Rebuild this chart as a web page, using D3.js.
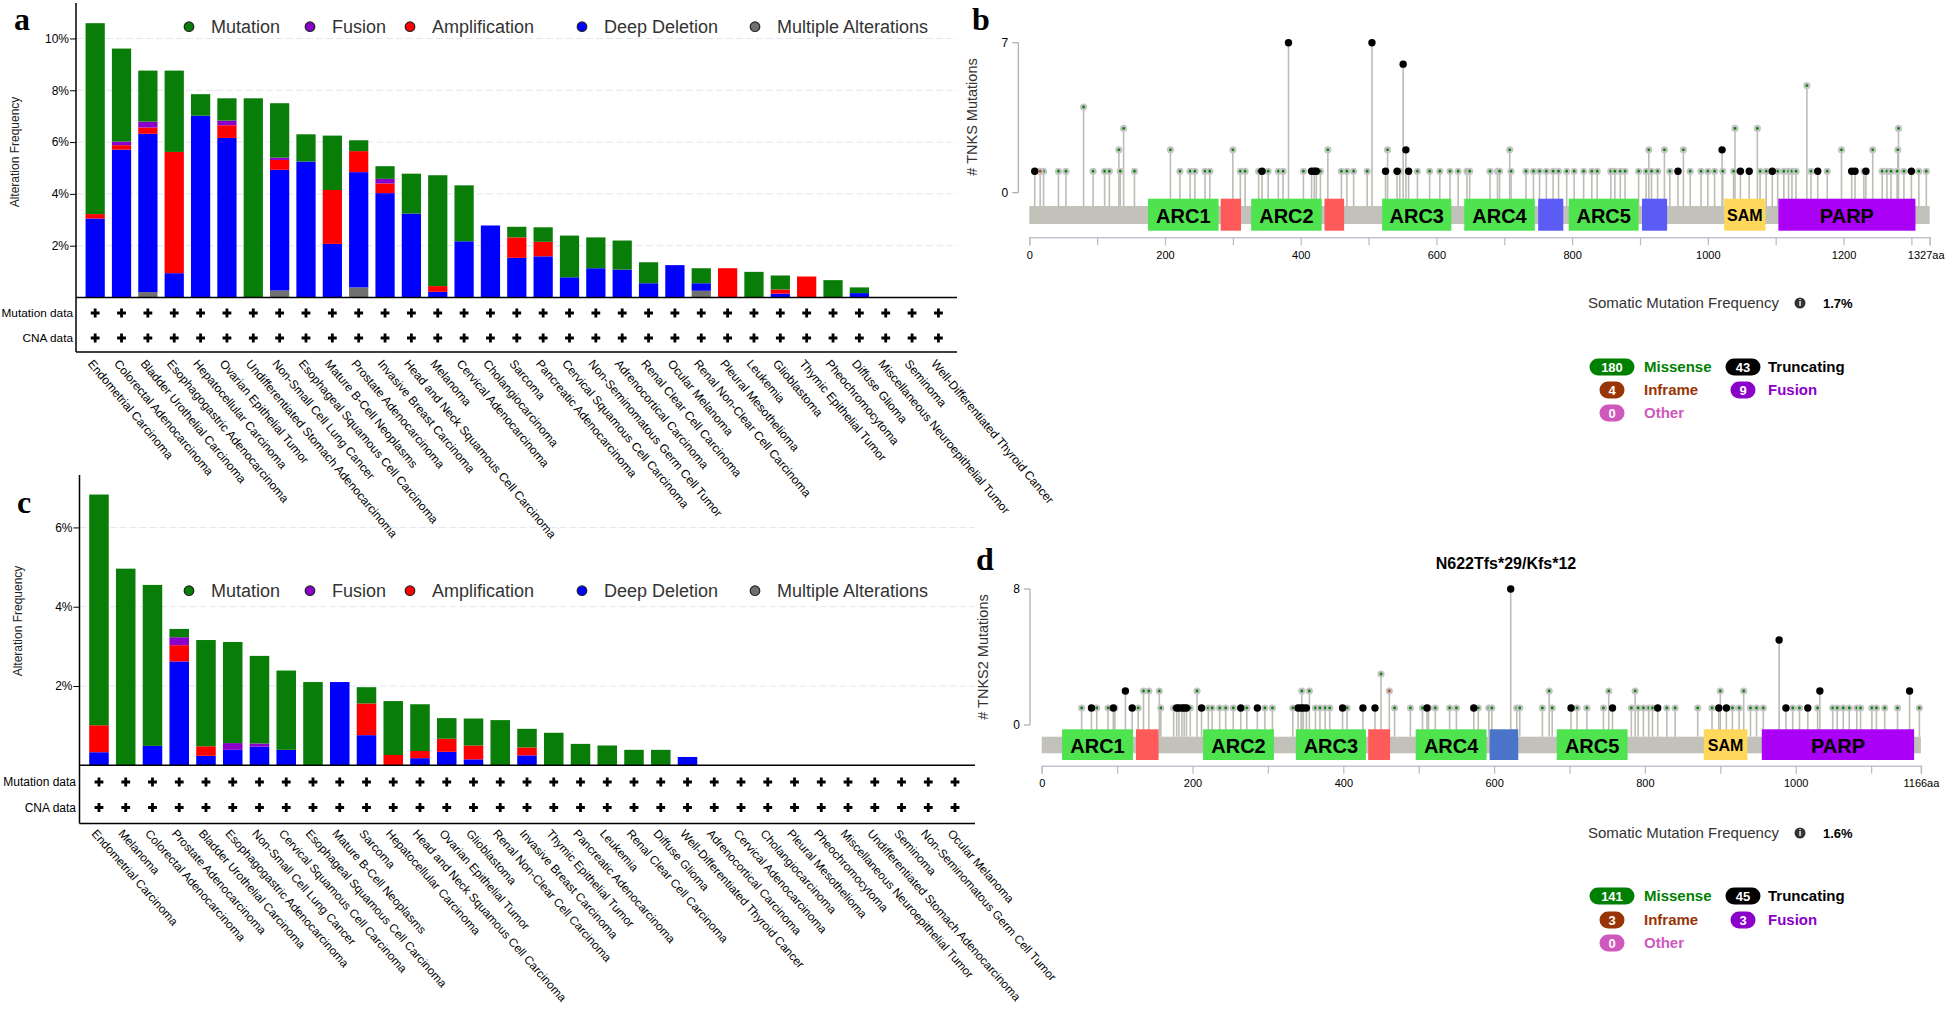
<!DOCTYPE html>
<html><head><meta charset="utf-8">
<script src="https://cdn.jsdelivr.net/npm/d3@7"></script>
<style>body{margin:0;background:#fff;} svg{display:block;font-family:"Liberation Sans",Arial,Helvetica,sans-serif;}</style>
</head><body><svg id="c" width="1946" height="1009"></svg>
<script>
// ---------------- DATA ----------------
const stackKeys = ["multiple","deldel","amp","fusion","mutation"];
const legendKeys = ["mutation","fusion","amp","deldel","multiple"];
const legendNames = ["Mutation","Fusion","Amplification","Deep Deletion","Multiple Alterations"];

// Panel a (TNKS)
const typesA = ["Endometrial Carcinoma","Colorectal Adenocarcinoma","Bladder Urothelial Carcinoma","Esophagogastric Adenocarcinoma","Hepatocellular Carcinoma","Ovarian Epithelial Tumor","Undifferentiated Stomach Adenocarcinoma","Non-Small Cell Lung Cancer","Esophageal Squamous Cell Carcinoma","Mature B-Cell Neoplasms","Prostate Adenocarcinoma","Invasive Breast Carcinoma","Head and Neck Squamous Cell Carcinoma","Melanoma","Cervical Adenocarcinoma","Cholangiocarcinoma","Sarcoma","Pancreatic Adenocarcinoma","Cervical Squamous Cell Carcinoma","Non-Seminomatous Germ Cell Tumor","Adrenocortical Carcinoma","Renal Clear Cell Carcinoma","Ocular Melanoma","Renal Non-Clear Cell Carcinoma","Pleural Mesothelioma","Leukemia","Glioblastoma","Thymic Epithelial Tumor","Pheochromocytoma","Diffuse Glioma","Miscellaneous Neuroepithelial Tumor","Seminoma","Well-Differentiated Thyroid Cancer"];
const mutationA = [7.37,3.59,1.97,3.14,0.83,0.86,7.69,2.10,1.05,2.10,0.42,0.49,1.54,4.28,2.16,0,0.41,0.56,1.61,1.19,1.12,0.81,0,0.58,0,0.99,0.54,0,0.67,0.22,0,0,0];
const fusionA   = [0,0.14,0.23,0,0,0.18,0,0.09,0,0,0,0.18,0,0,0,0,0,0,0,0,0,0,0,0,0,0,0,0,0,0,0,0,0];
const ampA      = [0.17,0.17,0.24,4.68,0,0.49,0,0.38,0,2.08,0.81,0.37,0,0.22,0,0,0.79,0.56,0,0,0,0,0,0,1.13,0,0.16,0.81,0,0,0,0,0];
const deldelA   = [3.05,5.71,6.11,0.94,7.02,6.16,0,4.66,5.25,2.07,4.45,4.03,3.24,0.22,2.17,2.78,1.53,1.59,0.78,1.13,1.08,0.55,1.25,0.29,0,0,0.15,0,0,0.17,0,0,0];
const multipleA = [0,0,0.21,0,0,0,0,0.27,0,0,0.39,0,0,0,0,0,0,0,0,0,0,0,0,0.26,0,0,0,0,0,0,0,0,0];
const ticksA = [2,4,6,8,10];

// Panel c (TNKS2)
const typesC = ["Endometrial Carcinoma","Melanoma","Colorectal Adenocarcinoma","Prostate Adenocarcinoma","Bladder Urothelial Carcinoma","Esophagogastric Adenocarcinoma","Non-Small Cell Lung Cancer","Cervical Squamous Cell Carcinoma","Esophageal Squamous Cell Carcinoma","Mature B-Cell Neoplasms","Sarcoma","Hepatocellular Carcinoma","Head and Neck Squamous Cell Carcinoma","Ovarian Epithelial Tumor","Glioblastoma","Renal Non-Clear Cell Carcinoma","Invasive Breast Carcinoma","Thymic Epithelial Tumor","Pancreatic Adenocarcinoma","Leukemia","Renal Clear Cell Carcinoma","Diffuse Glioma","Well-Differentiated Thyroid Cancer","Adrenocortical Carcinoma","Cervical Adenocarcinoma","Cholangiocarcinoma","Pleural Mesothelioma","Pheochromocytoma","Miscellaneous Neuroepithelial Tumor","Undifferentiated Stomach Adenocarcinoma","Seminoma","Non-Seminomatous Germ Cell Tumor","Ocular Melanoma"];
const mutationC = [5.82,4.96,4.06,0.21,2.68,2.55,2.21,2.00,2.10,0,0.41,1.36,1.18,0.52,0.68,1.14,0.47,0.82,0.54,0.50,0.39,0.39,0,0,0,0,0,0,0,0,0,0,0];
const fusionC   = [0,0,0,0.20,0,0.17,0.08,0,0,0,0,0,0,0,0,0,0,0,0,0,0,0,0,0,0,0,0,0,0,0,0,0,0];
const ampC      = [0.68,0,0,0.41,0.24,0,0,0,0,0,0.80,0.26,0.18,0.33,0.35,0,0.20,0,0,0,0,0,0,0,0,0,0,0,0,0,0,0,0];
const deldelC   = [0.33,0,0.49,2.62,0.24,0.39,0.47,0.39,0,2.10,0.76,0,0.18,0.34,0.15,0,0.25,0,0,0,0,0,0.21,0,0,0,0,0,0,0,0,0,0];
const multipleC = [0,0,0,0,0,0,0,0,0,0,0,0,0,0,0,0,0,0,0,0,0,0,0,0,0,0,0,0,0,0,0,0,0];
const ticksC = [2,4,6];

// Panel b (TNKS lollipop) : [amino acid, count]
const tnksLength = 1327;
const tnksDomains = [["ARC1",175,279],["",282,312],["ARC2",327,431],["",435,464],["ARC3",520,622],["ARC4",641,745],["",750,787],["ARC5",795,898],["",903,940],["SAM",1024,1085],["PARP",1104,1306]];
const tnksMissense = [21,43,54,94,111,118,134,155,222,237,244,259,266,311,318,338,352,367,374,404,429,460,468,478,498,546,572,590,605,620,632,645,649,679,690,693,710,732,743,752,762,772,780,792,803,817,829,837,857,863,871,878,898,909,917,926,944,974,990,1000,1010,1022,1038,1077,1086,1103,1112,1119,1124,1130,1152,1176,1230,1257,1264,1270,1279,1289,1311,1322].map(p=>[p,1])
  .concat([132,208,300,440,528,708,913,936,964,1197,1243,1280].map(p=>[p,2]))
  .concat([139,1040,1073,1281].map(p=>[p,3]))
  .concat([[80,4],[1146,5]]);
const tnksTruncating = [8,343,416,420,423,525,542,559,956,1048,1061,1095,1162,1212,1217,1233,1300].map(p=>[p,1])
  .concat([[555,2],[1021,2],[551,6],[382,7],[505,7]]);
const tnksInframe = [[16,1]];
const tnksTypeCounts = [180,43,4,9,0];

// Panel d (TNKS2 lollipop)
const tnks2Length = 1166;
const tnks2Domains = [["ARC1",27,121],["",125,155],["ARC2",214,308],["ARC3",337,430],["",433,462],["ARC4",496,590],["",594,632],["ARC5",683,777],["SAM",878,936],["PARP",955,1157]];
const tnks2Missense = [53,73,88,97,128,158,175,197,221,226,236,244,254,272,296,306,333,363,369,376,382,405,468,489,505,513,522,541,550,579,593,597,630,634,664,677,710,723,745,782,791,798,805,810,829,840,870,889,916,925,940,948,957,996,1005,1029,1049,1055,1063,1071,1081,1086,1101,1107,1118,1135,1164].map(p=>[p,1])
  .concat([135,142,156,206,345,355,673,752,787,900,931].map(p=>[p,2]))
  .concat([[450,3]]);
const tnks2Truncating = [66,95,120,179,182,186,189,192,212,264,286,340,344,347,351,399,426,442,511,573,702,757,817,898,908,987,1016].map(p=>[p,1])
  .concat([[111,2],[1032,2],[1151,2],[978,5],[622,8]]);
const tnks2Inframe = [[461,2]];
const tnks2TypeCounts = [141,45,3,3,0];
const hotspotLabel = "N622Tfs*29/Kfs*12";
const freqB = "1.7%", freqD = "1.6%";

const mutTypeNames = ["Missense","Truncating","Inframe","Fusion","Other"];

// ---------------- STYLE ----------------
const colors = {mutation:"#087d08", fusion:"#8b00c9", amp:"#ff0000", deldel:"#0000ff", multiple:"#707070"};
const domColor = {ARC:"#4fe34f", red:"#ff5a5a", SAM:"#ffd75a", PARP:"#aa00f5"};
const typeColors = ["#008000","#000000","#993404","#8b00c9","#cf58bc"];
const svg = d3.select("#c");

// ---------------- BAR PANELS ----------------
function barPanel(cfg){
  const rows = cfg.cats.map((c,i)=>({cat:c, multiple:cfg.multi[i], deldel:cfg.del[i], amp:cfg.amp[i], fusion:cfg.fus[i], mutation:cfg.mut[i]}));
  const x = d3.scaleBand().domain(cfg.cats).range(cfg.xRange).paddingInner(0.27).paddingOuter(0.135);
  const y = d3.scaleLinear().domain([0,cfg.yMax]).range([cfg.yBase,cfg.yTop]);
  const g = svg.append("g");
  g.selectAll("line.grid").data(cfg.ticks).join("line").attr("class","grid")
    .attr("x1",cfg.axisX).attr("x2",cfg.gridEnd).attr("y1",d=>y(d)).attr("y2",d=>y(d))
    .attr("stroke","#e2e6ee").attr("stroke-width",1).attr("stroke-dasharray","7,3");
  const series = d3.stack().keys(stackKeys)(rows);
  g.selectAll("g.s").data(series).join("g").attr("fill",d=>colors[d.key])
    .selectAll("rect").data(d=>d).join("rect")
    .attr("x",d=>x(d.data.cat)).attr("width",x.bandwidth())
    .attr("y",d=>y(d[1])).attr("height",d=>Math.max(0,y(d[0])-y(d[1])));
  const ax = g.append("g").attr("transform",`translate(${cfg.axisX},0)`)
    .call(d3.axisLeft(y).tickValues(cfg.ticks).tickFormat(d=>d+"%").tickSize(6).tickPadding(1));
  ax.select(".domain").remove();
  ax.selectAll("line").attr("stroke","#000");
  ax.selectAll("text").attr("font-size",12).attr("fill","#000").attr("font-family",'"Liberation Sans",Arial,sans-serif');
  g.append("line").attr("x1",cfg.axisX).attr("x2",cfg.axisX).attr("y1",cfg.axisTop).attr("y2",cfg.boxBottom).attr("stroke","#000").attr("stroke-width",1.5);
  g.append("line").attr("x1",cfg.axisX).attr("x2",cfg.gridEnd).attr("y1",cfg.yBase).attr("y2",cfg.yBase).attr("stroke","#000").attr("stroke-width",1.6);
  g.append("line").attr("x1",cfg.axisX).attr("x2",cfg.gridEnd).attr("y1",cfg.boxBottom).attr("y2",cfg.boxBottom).attr("stroke","#000").attr("stroke-width",1.5);
  g.append("text").attr("transform",`translate(${cfg.titleX},${cfg.titleY}) rotate(-90)`).attr("text-anchor","middle")
    .attr("font-size",12).attr("fill","#222").text("Alteration Frequency");
  [["Mutation data",cfg.mutRowY],["CNA data",cfg.cnaRowY]].forEach(([t,yy])=>{
    g.append("text").attr("x",cfg.rowLabelX).attr("y",yy).attr("dy","0.35em").attr("text-anchor","end").attr("font-size",cfg.rowFont).attr("fill","#000").text(t);
    g.selectAll(null).data(cfg.cats).join("path")
      .attr("transform",d=>`translate(${x(d)+x.bandwidth()/2},${yy})`)
      .attr("d","M-1.4,-4.4h2.8v3h3v2.8h-3v3h-2.8v-3h-3v-2.8h3z").attr("fill","#000");
  });
  g.selectAll("text.cat").data(cfg.cats).join("text").attr("class","cat")
    .attr("transform",d=>`translate(${x(d)+x.bandwidth()/2-8},${cfg.labelY}) rotate(${cfg.labelAngle})`)
    .attr("font-size",cfg.labelFont).attr("fill","#000").text(d=>d);
  const lg = g.append("g");
  legendKeys.forEach((k,i)=>{
    lg.append("circle").attr("cx",cfg.legendX[i]).attr("cy",cfg.legendY).attr("r",4.8).attr("fill",colors[k]).attr("stroke","#222").attr("stroke-width",1.2);
    lg.append("text").attr("x",cfg.legendX[i]+22).attr("y",cfg.legendY).attr("dy","0.36em").attr("font-size",18).attr("fill","#333").text(legendNames[i]);
  });
  svg.append("text").attr("x",cfg.letterX).attr("y",cfg.letterY).attr("font-family",'"Liberation Serif","Times New Roman",serif').attr("font-weight","bold").attr("font-size",32).text(cfg.letter);
}

const legendXs = [189,310,410,582,755];
barPanel({cats:typesA, mut:mutationA, fus:fusionA, amp:ampA, del:deldelA, multi:multipleA, ticks:ticksA,
  xRange:[82,951.6], yMax:11.4, yBase:297.5, yTop:2.2, axisX:76, axisTop:3, gridEnd:957, boxBottom:352,
  mutRowY:313, cnaRowY:338, rowLabelX:73, rowFont:11.8, labelY:364, labelAngle:50, labelFont:12, titleX:19, titleY:152, legendX:legendXs, legendY:26.7,
  letter:"a", letterX:14, letterY:30});
barPanel({cats:typesC, mut:mutationC, fus:fusionC, amp:ampC, del:deldelC, multi:multipleC, ticks:ticksC,
  xRange:[85.6,968.4], yMax:7.3, yBase:765.3, yTop:475.9, axisX:79.5, axisTop:475, gridEnd:975, boxBottom:823.6,
  mutRowY:782, cnaRowY:807.5, rowLabelX:76, rowFont:12, labelY:834, labelAngle:48.5, labelFont:11.8, titleX:22, titleY:621, legendX:legendXs, legendY:590.7,
  letter:"c", letterX:17, letterY:513});

// ---------------- LOLLIPOP PANELS ----------------
function lolliPanel(cfg){
  const x = d3.scaleLinear().domain([0,cfg.len]).range([cfg.x0,cfg.x1]);
  const y = d3.scaleLinear().domain([0,cfg.yMax]).range([cfg.y0,cfg.yMaxPx]);
  const g = svg.append("g");
  g.append("line").attr("x1",cfg.yAxisX).attr("x2",cfg.yAxisX).attr("y1",y(cfg.yMax)).attr("y2",y(0)).attr("stroke","#aaa").attr("stroke-width",1.2);
  [0,cfg.yMax].forEach(v=>{
    g.append("line").attr("x1",cfg.yAxisX-6).attr("x2",cfg.yAxisX).attr("y1",y(v)).attr("y2",y(v)).attr("stroke","#aaa").attr("stroke-width",1.2);
    g.append("text").attr("x",cfg.yAxisX-10).attr("y",y(v)).attr("dy","0.35em").attr("text-anchor","end").attr("font-size",12).attr("fill","#000").text(v);
  });
  g.append("text").attr("transform",`translate(${cfg.titleX},${cfg.titleY}) rotate(-90)`).attr("text-anchor","middle")
    .attr("font-size",14.5).attr("fill","#333").text(cfg.yTitle);
  const all = cfg.missense.map(d=>({p:d[0],c:d[1],t:"m"}))
    .concat(cfg.inframe.map(d=>({p:d[0],c:d[1],t:"i"})))
    .concat(cfg.trunc.map(d=>({p:d[0],c:d[1],t:"t"})));
  g.selectAll("line.stem").data(all).join("line").attr("class","stem")
    .attr("x1",d=>x(d.p)).attr("x2",d=>x(d.p)).attr("y1",cfg.barTop).attr("y2",d=>y(d.c))
    .attr("stroke","#bdbdb5").attr("stroke-width",1.6);
  g.append("rect").attr("x",x(0)).attr("width",x(cfg.len)-x(0)).attr("y",cfg.barTop).attr("height",cfg.barBot-cfg.barTop).attr("fill","#c2c2ba");
  g.selectAll("circle.m").data(all.filter(d=>d.t!=="t")).join("circle").attr("class","m")
    .attr("cx",d=>x(d.p)).attr("cy",d=>y(d.c)).attr("r",2.5)
    .attr("fill",d=>d.t==="m"?"#0a820a":"#b2451a").attr("stroke","#c4c4c4").attr("stroke-width",2.2);
  g.selectAll("circle.t").data(all.filter(d=>d.t==="t")).join("circle").attr("class","t")
    .attr("cx",d=>x(d.p)).attr("cy",d=>y(d.c)).attr("r",3.7).attr("fill","#000");
  cfg.domains.forEach(([name,s,e],i)=>{
    let col = name.startsWith("ARC")?domColor.ARC: name==="SAM"?domColor.SAM: name==="PARP"?domColor.PARP:null;
    if(!col){ col = cfg.spacerColors[i] || domColor.red; }
    g.append("rect").attr("x",x(s)).attr("width",x(e)-x(s)).attr("y",cfg.domTop).attr("height",cfg.domBot-cfg.domTop).attr("fill",col);
    if(name) g.append("text").attr("x",(x(s)+x(e))/2).attr("y",(cfg.domTop+cfg.domBot)/2+1).attr("dy","0.36em")
      .attr("text-anchor","middle").attr("font-weight","bold").attr("font-size",name==="SAM"?16:20).attr("fill","#000").text(name);
  });
  const tv = d3.range(0,cfg.len,100).concat([cfg.len]);
  const ax = g.append("g").attr("transform",`translate(0,${cfg.axisY})`)
    .call(d3.axisBottom(x).tickValues(tv).tickSizeOuter(0).tickSize(8).tickPadding(6)
      .tickFormat(d=>d===cfg.len? d+"aa" : (d%200===0? d : "")));
  ax.select(".domain").attr("stroke","#c4c4d2").attr("stroke-width",1.5);
  ax.selectAll(".tick line").attr("stroke","#bbb").attr("stroke-width",1.2);
  ax.selectAll("text").attr("font-size",11).attr("fill","#000").attr("font-family",'"Liberation Sans",Arial,sans-serif');
  ax.selectAll(".tick").filter(d=>d===cfg.len).select("text").attr("dx",cfg.endLabelDx);
  if(cfg.hotspot) g.append("text").attr("x",cfg.hotspotX).attr("y",cfg.hotspotY).attr("text-anchor","middle").attr("font-weight","bold").attr("font-size",16).attr("fill","#000").text(cfg.hotspot);
  g.append("text").attr("x",1588).attr("y",cfg.freqY).attr("dy","0.35em").attr("font-size",15).attr("fill","#333").text("Somatic Mutation Frequency");
  g.append("circle").attr("cx",1800).attr("cy",cfg.freqY).attr("r",5.5).attr("fill","#333");
  g.append("text").attr("x",1800).attr("y",cfg.freqY).attr("dy","0.36em").attr("text-anchor","middle").attr("font-size",9).attr("font-weight","bold").attr("fill","#fff").text("i");
  g.append("text").attr("x",1823).attr("y",cfg.freqY).attr("dy","0.35em").attr("font-size",13).attr("font-weight","bold").attr("fill","#000").text(cfg.freq);
  const cols=[1612,1743], txs=[1644,1768], slots=[[0,0],[1,0],[0,1],[1,1],[0,2]];
  cfg.counts.forEach((n,i)=>{
    const [c,r]=slots[i]; const yy=cfg.legRows[r];
    const w = 15+String(n).length*10;
    g.append("rect").attr("x",cols[c]-w/2).attr("y",yy-8.5).attr("width",w).attr("height",17).attr("rx",8.5).attr("fill",typeColors[i]);
    g.append("text").attr("x",cols[c]).attr("y",yy).attr("dy","0.36em").attr("text-anchor","middle").attr("font-size",13).attr("font-weight","bold").attr("fill","#fff").text(n);
    g.append("text").attr("x",txs[c]).attr("y",yy).attr("dy","0.36em").attr("font-size",15).attr("font-weight","bold").attr("fill",typeColors[i]).text(mutTypeNames[i]);
  });
  svg.append("text").attr("x",cfg.letterX).attr("y",cfg.letterY).attr("font-family",'"Liberation Serif","Times New Roman",serif').attr("font-weight","bold").attr("font-size",32).text(cfg.letter);
}

lolliPanel({len:tnksLength, x0:1029.3, x1:1929.7, yMax:7, y0:192.7, yMaxPx:42.7, yAxisX:1018.3,
  barTop:206, barBot:224, domTop:198.7, domBot:230.7, axisY:237.3, titleX:977, titleY:117, yTitle:"# TNKS Mutations",
  missense:tnksMissense, trunc:tnksTruncating, inframe:tnksInframe, domains:tnksDomains,
  spacerColors:{1:"#ff5a5a",3:"#ff5a5a",6:"#5b5bf6",8:"#5b5bf6"}, endLabelDx:-4,
  freq:freqB, freqY:303, counts:tnksTypeCounts, legRows:[367,390,413], letter:"b", letterX:972, letterY:30});
lolliPanel({len:tnks2Length, x0:1041.7, x1:1920.9, yMax:8, y0:725, yMaxPx:589, yAxisX:1030,
  barTop:736.7, barBot:753.3, domTop:729.3, domBot:760, axisY:765.7, titleX:988, titleY:657, yTitle:"# TNKS2 Mutations",
  missense:tnks2Missense, trunc:tnks2Truncating, inframe:tnks2Inframe, domains:tnks2Domains,
  spacerColors:{1:"#ff5a5a",4:"#ff5a5a",6:"#4a74c9"}, endLabelDx:0,
  hotspot:hotspotLabel, hotspotX:1506, hotspotY:569,
  freq:freqD, freqY:833, counts:tnks2TypeCounts, legRows:[896,920,943], letter:"d", letterX:976, letterY:570});
</script></body></html>
